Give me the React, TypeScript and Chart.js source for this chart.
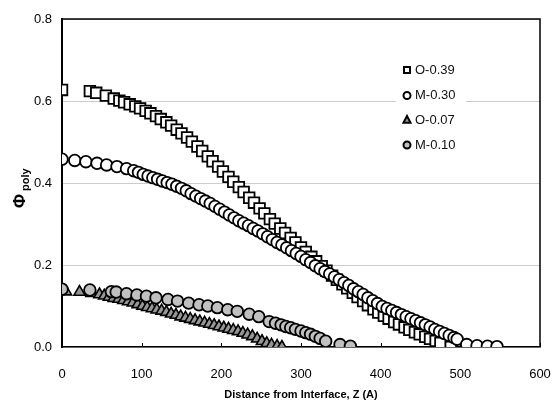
import React, { useEffect, useRef } from "react";
import { Chart, registerables } from "chart.js";

Chart.register(...registerables);

const seriesLabels = ["O-0.39", "M-0.30", "O-0.07", "M-0.10"];

const xTicks = [0, 100, 200, 300, 400, 500, 600];
const yTicks = [0, 0.2, 0.4, 0.6, 0.8];

const o39X = [0, 35, 43, 55, 65, 72, 78, 85, 92, 98, 105, 111, 118, 124, 131, 137, 144, 150, 157, 163, 170, 176, 183, 189, 196, 202, 209, 215, 222, 228, 235, 241, 248, 254, 261, 267, 274, 280, 287, 293, 300, 306, 313, 319, 326, 332, 339, 345, 352, 358, 365, 371, 378, 384, 391, 397, 404, 410, 417, 423, 430, 436, 443, 449, 456, 462, 469, 475, 488];
const o39Y = [0.627, 0.624, 0.62, 0.613, 0.606, 0.601, 0.597, 0.592, 0.587, 0.582, 0.576, 0.57, 0.563, 0.556, 0.548, 0.54, 0.53, 0.521, 0.511, 0.501, 0.489, 0.478, 0.465, 0.453, 0.44, 0.428, 0.415, 0.403, 0.39, 0.378, 0.364, 0.352, 0.338, 0.326, 0.312, 0.301, 0.289, 0.278, 0.266, 0.255, 0.243, 0.232, 0.22, 0.209, 0.197, 0.186, 0.174, 0.164, 0.153, 0.143, 0.132, 0.122, 0.112, 0.102, 0.092, 0.084, 0.076, 0.069, 0.061, 0.055, 0.048, 0.042, 0.036, 0.031, 0.025, 0.02, 0.015, 0.01, 0.0];

const m30X = [0, 16, 30, 44, 56, 69, 81, 90, 96, 102, 108, 114, 120, 126, 132, 138, 144, 150, 156, 162, 168, 174, 180, 186, 192, 198, 204, 210, 216, 222, 228, 234, 240, 246, 252, 258, 264, 270, 276, 282, 288, 294, 300, 306, 312, 318, 324, 330, 336, 342, 348, 354, 360, 366, 372, 378, 384, 390, 396, 402, 408, 414, 420, 426, 432, 438, 444, 450, 456, 462, 468, 474, 480, 486, 492, 496, 508, 521, 534, 546];
const m30Y = [0.458, 0.455, 0.452, 0.448, 0.444, 0.44, 0.435, 0.43, 0.426, 0.421, 0.417, 0.413, 0.409, 0.405, 0.401, 0.397, 0.392, 0.387, 0.381, 0.374, 0.368, 0.362, 0.356, 0.35, 0.343, 0.336, 0.329, 0.322, 0.315, 0.308, 0.302, 0.296, 0.289, 0.283, 0.276, 0.269, 0.262, 0.255, 0.249, 0.242, 0.235, 0.228, 0.221, 0.213, 0.206, 0.198, 0.191, 0.184, 0.178, 0.171, 0.164, 0.157, 0.15, 0.142, 0.135, 0.128, 0.12, 0.113, 0.106, 0.099, 0.094, 0.089, 0.084, 0.079, 0.074, 0.069, 0.064, 0.059, 0.054, 0.049, 0.043, 0.038, 0.033, 0.028, 0.023, 0.019, 0.006, 0.003, 0.002, 0.001];

const o07X = [5, 22, 37, 47, 53, 59, 65, 71, 77, 83, 89, 95, 101, 107, 113, 119, 125, 131, 137, 143, 149, 155, 161, 167, 173, 179, 185, 191, 197, 203, 209, 215, 221, 227, 233, 239, 245, 251, 257, 263, 270, 276];
const o07Y = [0.135, 0.134, 0.131, 0.128, 0.125, 0.122, 0.119, 0.117, 0.114, 0.111, 0.108, 0.104, 0.1, 0.097, 0.094, 0.091, 0.088, 0.085, 0.081, 0.078, 0.074, 0.071, 0.068, 0.065, 0.062, 0.059, 0.056, 0.053, 0.05, 0.047, 0.044, 0.041, 0.038, 0.034, 0.03, 0.026, 0.02, 0.014, 0.009, 0.005, 0.002, 0.0];

const m10X = [0, 35, 62, 68, 81, 94, 106, 118, 133, 145, 159, 172, 183, 195, 208, 220, 235, 247, 260, 268, 275, 281, 287, 293, 300, 306, 312, 318, 324, 331, 349, 362];
const m10Y = [0.141, 0.139, 0.135, 0.134, 0.13, 0.127, 0.124, 0.12, 0.116, 0.112, 0.107, 0.103, 0.1, 0.096, 0.091, 0.087, 0.08, 0.074, 0.062, 0.058, 0.054, 0.05, 0.047, 0.043, 0.039, 0.035, 0.031, 0.026, 0.021, 0.014, 0.006, 0.002];

const FONT = "'Liberation Sans', Arial, sans-serif";

const toPts = (xs: number[], ys: number[]) => xs.map((x, i) => ({ x, y: ys[i] }));

function drawMarker(ctx: CanvasRenderingContext2D, style: string, x: number, y: number, r: number, fill: string) {
  ctx.beginPath();
  if (style === "rect") {
    ctx.rect(x - r, y - r, 2 * r, 2 * r);
  } else if (style === "triangle") {
    ctx.moveTo(x, y - r * 1.15);
    ctx.lineTo(x + r, y + r * 0.75);
    ctx.lineTo(x - r, y + r * 0.75);
    ctx.closePath();
  } else {
    ctx.arc(x, y, r, 0, Math.PI * 2);
  }
  ctx.fillStyle = fill;
  ctx.fill();
  ctx.stroke();
}

const decorPlugin = {
  id: "decor",
  afterDraw(chart: any) {
    const { ctx, chartArea } = chart;
    const xs = chart.scales.x;
    ctx.save();
    ctx.strokeStyle = "#000";
    ctx.lineWidth = 1.5;
    ctx.beginPath();
    ctx.moveTo(chartArea.left, chartArea.top);
    ctx.lineTo(chartArea.right, chartArea.top);
    ctx.lineTo(chartArea.right, chartArea.bottom);
    ctx.stroke();
    ctx.lineWidth = 1;
    xs.ticks.forEach((t: any) => {
      const px = Math.round(xs.getPixelForValue(t.value)) + 0.5;
      ctx.beginPath();
      ctx.moveTo(px, chartArea.bottom);
      ctx.lineTo(px, chartArea.bottom - 4);
      ctx.stroke();
    });
    ctx.fillStyle = "#000";
    ctx.translate(25, 208);
    ctx.rotate(-Math.PI / 2);
    ctx.textBaseline = "alphabetic";
    ctx.textAlign = "left";
    ctx.font = `bold 17px ${FONT}`;
    ctx.fillText("\u03A6", 0, 0);
    const w = ctx.measureText("\u03A6").width;
    ctx.font = `bold 11px ${FONT}`;
    ctx.fillText("poly", w + 3, 4);
    ctx.restore();

    ctx.save();
    ctx.fillStyle = "#fff";
    ctx.fillRect(396, 57, 70, 100);
    const rows = [70, 95.5, 120, 145];
    chart.data.datasets.forEach((ds: any, i: number) => {
      ctx.strokeStyle = "#000";
      ctx.lineWidth = 2;
      const r = ds.pointStyle === "rect" ? 3 : 3.5;
      drawMarker(ctx, ds.pointStyle, 407, rows[i], r, ds.pointBackgroundColor);
      ctx.fillStyle = "#111";
      ctx.font = `13px ${FONT}`;
      ctx.textBaseline = "middle";
      ctx.textAlign = "left";
      ctx.fillText(ds.label, 415, rows[i]);
    });
    ctx.restore();
  },
};

export default function App() {
  const ref = useRef<HTMLCanvasElement | null>(null);
  useEffect(() => {
    if (!ref.current) return;
    const chart = new Chart(ref.current, {
      type: "scatter",
      data: {
        datasets: [
          { label: seriesLabels[0], data: toPts(o39X, o39Y), pointStyle: "rect", pointRadius: 7.5, pointHoverRadius: 7.5, pointBackgroundColor: "#ffffff", pointBorderColor: "#000", pointBorderWidth: 1.8, order: 4 },
          { label: seriesLabels[1], data: toPts(m30X, m30Y), pointStyle: "circle", pointRadius: 5.8, pointHoverRadius: 5.8, pointBackgroundColor: "#ffffff", pointBorderColor: "#000", pointBorderWidth: 1.8, order: 3 },
          { label: seriesLabels[2], data: toPts(o07X, o07Y), pointStyle: "triangle", pointRadius: 6.5, pointHoverRadius: 6.5, pointBackgroundColor: "#969696", pointBorderColor: "#000", pointBorderWidth: 1.6, order: 2 },
          { label: seriesLabels[3], data: toPts(m10X, m10Y), pointStyle: "circle", pointRadius: 5.8, pointHoverRadius: 5.8, pointBackgroundColor: "#c0c0c0", pointBorderColor: "#000", pointBorderWidth: 1.8, order: 1 },
        ] as any,
      },
      options: {
        animation: false,
        responsive: false,
        devicePixelRatio: 1,
        layout: { padding: { top: 19, right: 13, left: 0, bottom: 0 } },
        plugins: { legend: { display: false }, tooltip: { enabled: false } },
        scales: {
          x: {
            type: "linear",
            min: 0,
            max: 600,
            afterBuildTicks: (s: any) => { s.ticks = xTicks.map((v) => ({ value: v })); },
            ticks: { font: { family: FONT, size: 13 }, color: "#000", padding: 12, maxRotation: 0 },
            grid: { display: false },
            border: { color: "#000", width: 1.5 },
            title: { display: true, text: "Distance from Interface, Z (A)", font: { family: FONT, size: 11, weight: "bold" }, color: "#000", padding: { top: 0, bottom: 3 } },
            afterFit: (s: any) => { s.height = 58; s.paddingRight = 0; s.paddingLeft = 0; },
          },
          y: {
            min: 0,
            max: 0.8,
            afterBuildTicks: (s: any) => { s.ticks = yTicks.map((v) => ({ value: v })); },
            ticks: { font: { family: FONT, size: 13 }, color: "#000", padding: 10, callback: (v: any) => Number(v).toFixed(1) },
            grid: { color: "#cccccc", drawTicks: false, lineWidth: 1 },
            border: { color: "#000", width: 2 },
            afterFit: (s: any) => { s.width = 62; s.paddingTop = 0; s.paddingBottom = 0; },
          },
        },
      } as any,
      plugins: [decorPlugin],
    });
    return () => chart.destroy();
  }, []);
  return (
    <div style={{ position: "absolute", left: 0, top: 0, width: 553, height: 405, background: "#fff" }}>
      <canvas ref={ref} width={553} height={405} />
    </div>
  );
}
